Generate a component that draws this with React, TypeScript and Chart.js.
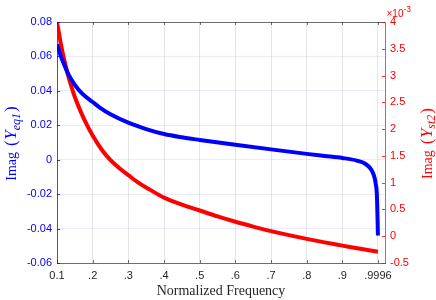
import React, { useEffect, useRef } from 'react';
import { Chart, registerables } from 'chart.js';

Chart.register(...registerables);

// Imag(Y_eq1) vs normalized frequency (left axis)
const eqFreq = [0.1, 0.11, 0.12, 0.131, 0.15, 0.17, 0.2, 0.22, 0.25, 0.3, 0.35, 0.4, 0.45, 0.5, 0.6, 0.7, 0.8, 0.85, 0.9, 0.94, 0.965, 0.98, 0.988, 0.993, 0.997, 0.9996];
const eqImag = [0.067, 0.0605, 0.0553, 0.05, 0.0435, 0.0385, 0.0335, 0.0303, 0.0264, 0.0215, 0.0178, 0.0149, 0.013, 0.0115, 0.0087, 0.006, 0.0034, 0.0022, 0.001, -0.0005, -0.0025, -0.0055, -0.009, -0.0135, -0.022, -0.044];

// Imag(Y_st2) vs normalized frequency (right axis, in units of 1e-3)
const stFreq = [0.1, 0.11, 0.12, 0.13, 0.14, 0.15, 0.165, 0.18, 0.2, 0.225, 0.25, 0.275, 0.3, 0.33, 0.36, 0.4, 0.45, 0.5, 0.55, 0.6, 0.65, 0.7, 0.75, 0.8, 0.85, 0.9, 0.95, 0.9996];
const stImag = [4.0, 3.62, 3.3, 3.03, 2.8, 2.6, 2.35, 2.13, 1.88, 1.62, 1.42, 1.27, 1.14, 0.99, 0.87, 0.72, 0.59, 0.48, 0.37, 0.27, 0.18, 0.095, 0.02, -0.05, -0.115, -0.175, -0.235, -0.29];

const xTickValues = [0.1, 0.2, 0.3, 0.4, 0.5, 0.6, 0.7, 0.8, 0.9, 0.9996];
const xTickLabels = ['0.1', '.2', '.3', '.4', '.5', '.6', '.7', '.8', '.9', '.9996'];
const leftTickValues = [-0.06, -0.04, -0.02, 0, 0.02, 0.04, 0.06, 0.08];
const leftTickLabels = ['-0.06', '-0.04', '-0.02', '0', '0.02', '0.04', '0.06', '0.08'];
const rightTickValues = [-0.5, 0, 0.5, 1, 1.5, 2, 2.5, 3, 3.5, 4];
const rightTickLabels = ['-0.5', '0', '0.5', '1', '1.5', '2', '2.5', '3', '3.5', '4'];

const xTitle = 'Normalized Frequency';
const leftTitleMain = 'Imag';
const leftTitleVar = 'Y';
const leftTitleSub = 'eq1';
const rightTitleMain = 'Imag';
const rightTitleVar = 'Y';
const rightTitleSub = 'st2';
const rightMultiplierBase = '×10';
const rightMultiplierExp = '-3';

const BLUE = '#0000ff';
const RED = '#ff0000';
const DARK = '#262626';
const SERIF = '"Liberation Serif", "DejaVu Serif", serif';
const SANS = '"Liberation Sans", Arial, sans-serif';

const labelFor = (vals: number[], labels: string[]) => (value: any) => {
  const i = vals.findIndex((v) => Math.abs(v - Number(value)) < 1e-9);
  return i >= 0 ? labels[i] : '';
};

type Part = { t: string; font: string; dy?: number; gap?: number };

function drawRich(ctx: CanvasRenderingContext2D, parts: Part[], x: number, y: number, color: string) {
  ctx.save();
  ctx.translate(x, y);
  ctx.rotate(-Math.PI / 2);
  ctx.fillStyle = color;
  ctx.textBaseline = 'alphabetic';
  ctx.textAlign = 'left';
  let total = 0;
  for (const p of parts) {
    ctx.font = p.font;
    total += ctx.measureText(p.t).width + (p.gap || 0);
  }
  let cx = -total / 2;
  for (const p of parts) {
    ctx.font = p.font;
    ctx.fillText(p.t, cx, p.dy || 0);
    cx += ctx.measureText(p.t).width + (p.gap || 0);
  }
  ctx.restore();
}

const titleParts = (main: string, v: string, sub: string): Part[] => [
  { t: main, font: '14px ' + SERIF, gap: 6 },
  { t: '(', font: '17px ' + SERIF, gap: 0.5 },
  { t: v, font: 'italic 17px ' + SERIF, gap: 0 },
  { t: sub, font: 'italic 12px ' + SERIF, dy: 3.5, gap: 1 },
  { t: ')', font: '17px ' + SERIF },
];

const decorPlugin = {
  id: 'decor',
  afterDraw(chart: any) {
    const { ctx, chartArea } = chart;
    const { left, right, top, bottom } = chartArea;
    const xs = chart.scales.x;
    const y2 = chart.scales.y2;
    const y = chart.scales.y;
    ctx.save();
    ctx.strokeStyle = 'rgba(38,38,38,0.65)';
    ctx.lineWidth = 1;
    ctx.beginPath();
    ctx.moveTo(left, top + 0.5);
    ctx.lineTo(right, top + 0.5);
    ctx.stroke();
    for (const v of xTickValues) {
      const px = Math.round(xs.getPixelForValue(v)) + 0.5;
      ctx.beginPath();
      ctx.moveTo(px, top);
      ctx.lineTo(px, top + 3);
      ctx.stroke();
      ctx.beginPath();
      ctx.moveTo(px, bottom);
      ctx.lineTo(px, bottom - 3);
      ctx.stroke();
    }
    ctx.strokeStyle = 'rgba(255,0,0,0.8)';
    for (const v of rightTickValues) {
      const py = Math.round(y2.getPixelForValue(v)) + 0.5;
      ctx.beginPath();
      ctx.moveTo(right - 3, py);
      ctx.lineTo(right, py);
      ctx.stroke();
    }
    ctx.strokeStyle = 'rgba(0,0,255,0.8)';
    for (const v of leftTickValues) {
      const py = Math.round(y.getPixelForValue(v)) + 0.5;
      ctx.beginPath();
      ctx.moveTo(left, py);
      ctx.lineTo(left + 3, py);
      ctx.stroke();
    }
    ctx.fillStyle = DARK;
    ctx.font = '14px ' + SERIF;
    ctx.textAlign = 'center';
    ctx.textBaseline = 'alphabetic';
    ctx.fillText(xTitle, (left + right) / 2, 295);
    ctx.fillStyle = RED;
    ctx.textAlign = 'left';
    ctx.font = '10px ' + SANS;
    ctx.fillText(rightMultiplierBase, right + 1.5, 16.5);
    const wBase = ctx.measureText(rightMultiplierBase).width;
    ctx.font = '8.5px ' + SANS;
    ctx.fillText(rightMultiplierExp, right + 1.5 + wBase, 11.5);
    ctx.restore();

    const midY = (top + bottom) / 2 + 1;
    drawRich(ctx, titleParts(leftTitleMain, leftTitleVar, leftTitleSub), 16, midY, BLUE);
    drawRich(ctx, titleParts(rightTitleMain, rightTitleVar, rightTitleSub), 431.5, midY, RED);
  },
};

export default function App() {
  const ref = useRef<HTMLCanvasElement | null>(null);
  useEffect(() => {
    const canvas = ref.current;
    if (!canvas) return;
    const tickFont = { family: SANS, size: 11 };
    const chart = new Chart(canvas, {
      type: 'line',
      data: {
        datasets: [
          {
            label: 'Imag(Yeq1)',
            data: eqFreq.map((f, i) => ({ x: f, y: eqImag[i] })),
            borderColor: BLUE,
            borderWidth: 4,
            pointRadius: 0,
            cubicInterpolationMode: 'monotone',
            yAxisID: 'y',
          },
          {
            label: 'Imag(Yst2)',
            data: stFreq.map((f, i) => ({ x: f, y: stImag[i] })),
            borderColor: RED,
            borderWidth: 4,
            pointRadius: 0,
            cubicInterpolationMode: 'monotone',
            yAxisID: 'y2',
          },
        ],
      },
      options: {
        animation: false,
        responsive: false,
        maintainAspectRatio: false,
        layout: { padding: { top: 22, left: 0, right: 0, bottom: 0 } },
        plugins: { legend: { display: false }, tooltip: { enabled: false } },
        scales: {
          x: {
            type: 'linear',
            min: 0.1,
            max: 1.0194,
            afterBuildTicks: (s: any) => { s.ticks = xTickValues.map((v) => ({ value: v })); },
            afterFit: (s: any) => { s.height = 37; },
            ticks: {
              autoSkip: false,
              maxRotation: 0,
              padding: 6,
              color: DARK,
              font: tickFont,
              callback: labelFor(xTickValues, xTickLabels),
            },
            grid: { color: 'rgba(0,0,0,0.1)', drawTicks: false },
            border: { color: 'rgba(38,38,38,0.65)' },
          },
          y: {
            type: 'linear',
            position: 'left',
            min: -0.06,
            max: 0.08,
            afterBuildTicks: (s: any) => { s.ticks = leftTickValues.map((v) => ({ value: v })); },
            afterFit: (s: any) => { s.width = 57; },
            ticks: {
              padding: 5,
              color: BLUE,
              font: tickFont,
              callback: labelFor(leftTickValues, leftTickLabels),
            },
            grid: { color: 'rgba(0,0,255,0.08)', drawTicks: false },
            border: { color: 'rgba(0,0,255,0.7)' },
          },
          y2: {
            type: 'linear',
            position: 'right',
            min: -0.5,
            max: 4,
            afterBuildTicks: (s: any) => { s.ticks = rightTickValues.map((v) => ({ value: v })); },
            afterFit: (s: any) => { s.width = 51; },
            ticks: {
              padding: 5,
              color: RED,
              font: tickFont,
              callback: labelFor(rightTickValues, rightTickLabels),
            },
            grid: { drawOnChartArea: false, drawTicks: false },
            border: { color: 'rgba(255,0,0,0.7)' },
          },
        },
      },
      plugins: [decorPlugin],
    } as any);
    return () => chart.destroy();
  }, []);
  return (
    <div style={{ position: 'fixed', left: 0, top: 0, width: 436, height: 300, background: '#fff' }}>
      <canvas ref={ref} width={436} height={300} style={{ width: 436, height: 300, display: 'block' }} />
    </div>
  );
}
